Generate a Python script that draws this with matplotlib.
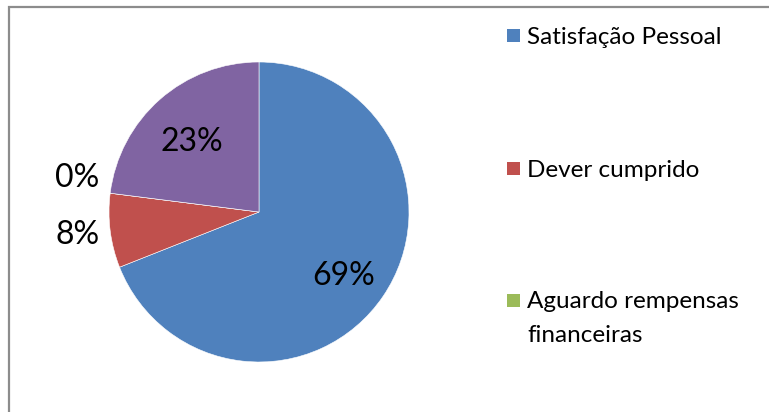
import numpy as np
import matplotlib
matplotlib.use("Agg")
import matplotlib.pyplot as plt
from matplotlib.patches import Rectangle

categories = ["Satisfação Pessoal", "Dever cumprido",
              "Aguardo rempensas\nfinanceiras", "Outros"]
values = [69, 8, 0, 23]
colors = ["#4F81BD", "#C0504D", "#9BBB59", "#8064A2"]
legend_count = 3

FONT = ["Lato", "DejaVu Sans"]
W, H = 769, 412

fig = plt.figure(figsize=(W / 100, H / 100), dpi=100)
fig.patch.set_facecolor("white")

def fx(px):
    return px / W

def fy(py):
    return 1 - py / H

# chart area border (open to the right and bottom)
fig.add_artist(Rectangle((fx(9), fy(420)), fx(780) - fx(9), fy(7) - fy(420),
                         transform=fig.transFigure, fill=False,
                         edgecolor="#8C8C8C", linewidth=1.6))

# pie centred at (259, 212) px with radius 150 px
cx, cy, r = 259, 212, 150
ax = fig.add_axes([fx(cx - r), fy(cy + r), 2 * r / W, 2 * r / H])
wedges, _ = ax.pie(values, colors=colors, startangle=90, counterclock=False,
                   wedgeprops=dict(edgecolor="white", linewidth=0.4))
ax.set_xlim(-1, 1)
ax.set_ylim(-1, 1)
ax.set_aspect("equal")
ax.axis("off")

# percentage labels: large slices inside, small ones outside
for i, (w, v) in enumerate(zip(wedges, values)):
    mid = np.deg2rad((w.theta1 + w.theta2) / 2)
    inside = v >= 20
    dist = 0.68 if inside else 1.22
    x, y = dist * np.cos(mid), dist * np.sin(mid)
    if inside:
        y -= 0.045
    if v == 0:
        y += 0.075
    ax.text(x, y, f"{v}%", ha="center", va="center", fontsize=23,
            family=FONT, color="black")

# legend
rows = [35, 168, 300]
sq = 13
for i in range(legend_count):
    ty = rows[i]
    fig.add_artist(Rectangle((fx(507), fy(ty + sq / 2)), fx(sq), fy(ty - sq / 2) - fy(ty + sq / 2),
                             transform=fig.transFigure, facecolor=colors[i],
                             edgecolor="none"))
    lines = categories[i].split("\n")
    for k, line in enumerate(lines):
        fig.text(fx(527), fy(ty + 33 * k), line, ha="left", va="center_baseline",
                 fontsize=17.5, family=FONT, color="black")

fig.savefig("out.png", dpi=100, facecolor="white")
